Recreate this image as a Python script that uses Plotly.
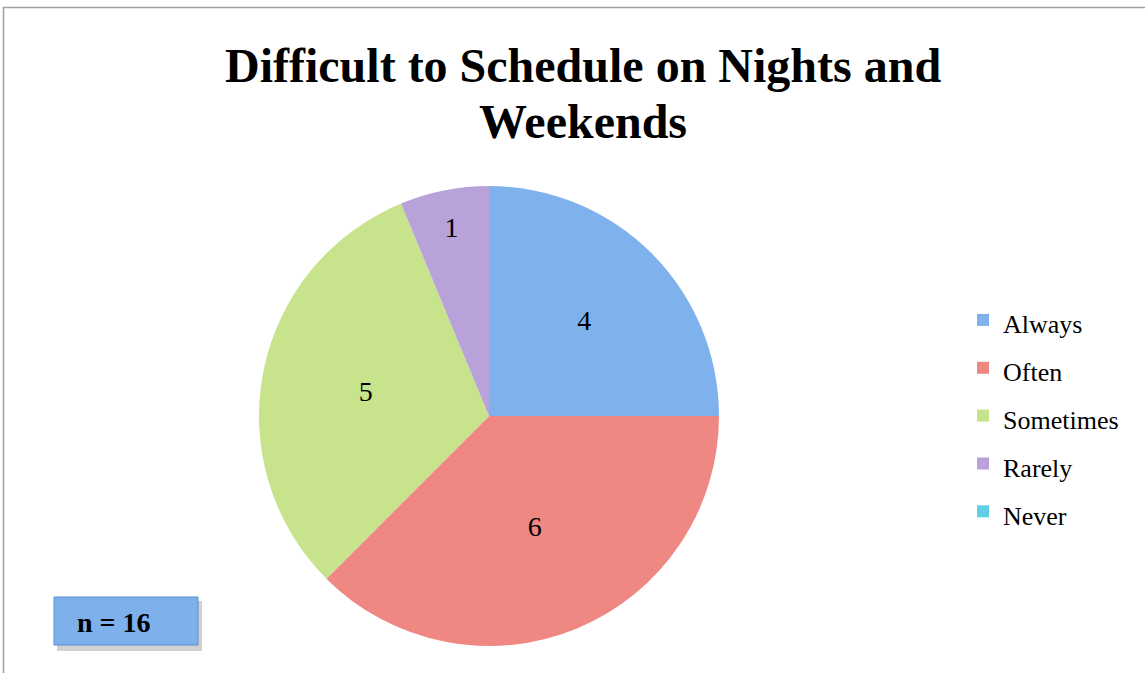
import plotly.graph_objects as go

labels = ["Always", "Often", "Sometimes", "Rarely", "Never"]
values = [4, 6, 5, 1, 0]
colors = ["#7fb1ec", "#ef8782", "#c7e48c", "#b9a2da", "#5fcfe6"]
title_lines = ["Difficult to Schedule on Nights and", "Weekends"]
n_label = "n = 16"

W, H = 1145, 673
SERIF = "Liberation Serif, Times New Roman, serif"

legend_labels = ["<span style='font-size:26px'>%s</span>" % l for l in labels]

fig = go.Figure()
fig.add_trace(go.Pie(
    labels=legend_labels, values=values, sort=False, direction="clockwise", rotation=0,
    marker=dict(colors=colors, line=dict(width=0)),
    textinfo="value", textposition="inside", insidetextorientation="horizontal",
    insidetextfont=dict(family=SERIF, size=28, color="black"),
    domain=dict(x=[259 / W, 719 / W], y=[1 - 646 / H, 1 - 186 / H]),
    hovertext=labels, hoverinfo="text+value+percent",
))

fig.update_layout(
    width=W, height=H,
    margin=dict(l=0, r=0, t=0, b=0),
    paper_bgcolor="white",
    showlegend=True,
    legend=dict(x=963 / W, y=1 - 291 / H, xanchor="left", yanchor="top",
                font=dict(family=SERIF, size=34.5, color="black"),
                itemwidth=30, tracegroupgap=0, bgcolor="rgba(0,0,0,0)"),
    shapes=[
        dict(type="rect", xref="paper", yref="paper",
             x0=3.5 / W, x1=1.01, y0=-0.02, y1=1 - 7.5 / H,
             line=dict(color="#a0a0a0", width=1.5), fillcolor="rgba(0,0,0,0)"),
        dict(type="rect", xref="paper", yref="paper",
             x0=57 / W, x1=202 / W, y0=1 - 651 / H, y1=1 - 601 / H,
             line=dict(width=0), fillcolor="rgba(0,0,0,0.18)"),
        dict(type="rect", xref="paper", yref="paper",
             x0=54 / W, x1=198 / W, y0=1 - 645 / H, y1=1 - 597 / H,
             line=dict(color="#5b8fd0", width=1), fillcolor="#7eb0ec"),
    ],
    annotations=[
        dict(text="<b>%s</b>" % title_lines[0], x=583 / W, y=1 - 66 / H, xref="paper", yref="paper",
             showarrow=False, xanchor="center", yanchor="middle",
             font=dict(family=SERIF, size=48, color="black")),
        dict(text="<b>%s</b>" % title_lines[1], x=583 / W, y=1 - 121 / H, xref="paper", yref="paper",
             showarrow=False, xanchor="center", yanchor="middle",
             font=dict(family=SERIF, size=48, color="black")),
        dict(text="<b>%s</b>" % n_label, x=75 / W, y=1 - 622 / H, xref="paper", yref="paper",
             showarrow=False, xanchor="left", yanchor="middle",
             font=dict(family=SERIF, size=28, color="black")),
    ],
)

fig.write_html("out.html", config={"displayModeBar": False},
               post_script="document.body.style.margin='0';document.body.style.padding='0';")
